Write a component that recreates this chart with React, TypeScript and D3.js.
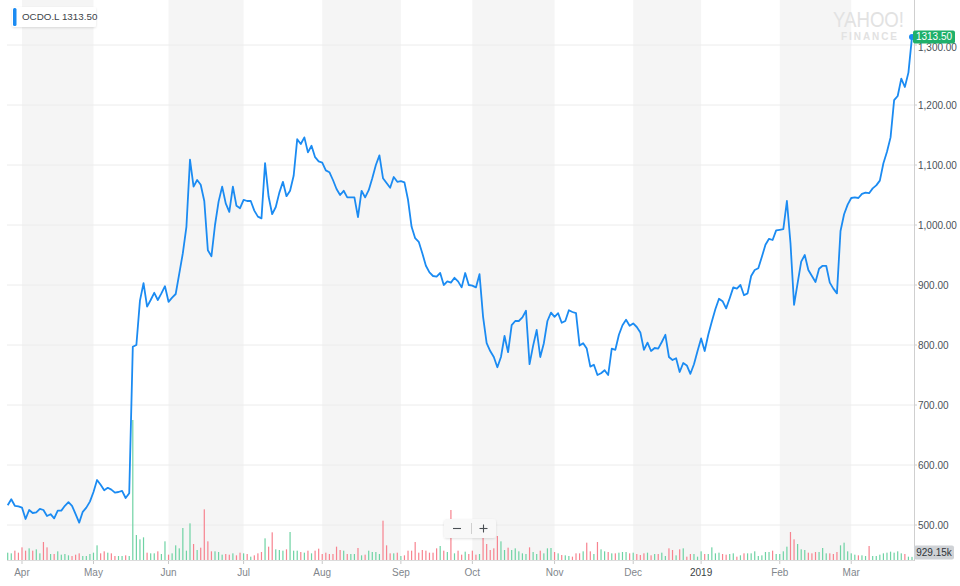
import * as d3 from "d3";
import { useEffect, useRef } from "react";

// LSE trading calendar for the year shown (weekends skipped in code)
const holidays = [
  "2018-03-30", "2018-04-02", "2018-05-07", "2018-05-28",
  "2018-08-27", "2018-12-25", "2018-12-26", "2019-01-01",
];

const monthLabels = ["Apr", "May", "Jun", "Jul", "Aug", "Sep", "Oct", "Nov", "Dec", "2019", "Feb", "Mar"];

// daily close, OCDO.L (pence), 26 Mar 2018 -> 26 Mar 2019
const closes = [
  533, 543, 532, 531, 529, 510, 525, 520, 521, 527,
  525, 515, 518, 511, 524, 524, 532, 538, 532, 518,
  504, 522, 529, 539, 555, 575, 567, 558, 562, 559,
  554, 555, 557, 545, 553, 797, 800, 874, 903, 864,
  875, 887, 875, 886, 898, 872, 879, 885, 919, 953,
  997, 1109, 1064, 1075, 1067, 1040, 958, 948, 1000, 1039,
  1064, 1036, 1022, 1064, 1032, 1028, 1042, 1040, 1040, 1024,
  1014, 1011, 1103, 1047, 1018, 1030, 1054, 1072, 1048, 1057,
  1082, 1143, 1135, 1146, 1121, 1132, 1113, 1106, 1104, 1091,
  1088, 1075, 1060, 1050, 1057, 1046, 1046, 1046, 1013, 1057,
  1046, 1058, 1078, 1100, 1116, 1078, 1070, 1062, 1080, 1072,
  1073, 1071, 1042, 997, 978, 972, 953, 932, 921, 915,
  914, 920, 900, 906, 904, 912, 906, 896, 920, 900,
  899, 896, 918, 847, 803, 790, 780, 763, 780, 815,
  788, 833, 840, 840, 846, 857, 768, 799, 825, 780,
  803, 840, 854, 847, 853, 837, 840, 858, 855, 853,
  799, 803, 794, 764, 767, 750, 753, 758, 750, 794,
  792, 817, 833, 842, 832, 836, 830, 821, 792, 804,
  790, 795, 794, 805, 817, 780, 775, 778, 755, 770,
  766, 752, 768, 790, 811, 790, 817, 839, 860, 877,
  873, 861, 878, 896, 894, 900, 883, 886, 915, 925,
  928, 947, 967, 977, 975, 991, 992, 993, 1040, 970,
  867, 903, 939, 950, 925, 915, 905, 927, 932, 932,
  904, 894, 886, 990, 1018, 1034, 1045, 1046, 1045, 1052,
  1054, 1053, 1061, 1066, 1074, 1103, 1122, 1146, 1208, 1215,
  1244, 1230, 1254, 1313.5,
];

// daily volume, thousands of shares
const volumes = [
  2200, 2000, 2800, 2200, 3800, 2800, 3500, 2800, 3200, 2000,
  5400, 3800, 1800, 1800, 2600, 1600, 1800, 1400, 1200, 1600,
  2000, 1200, 1200, 1800, 2200, 4400, 2000, 2600, 2200, 2000,
  1200, 1200, 1200, 1400, 1200, 42000, 7500, 6200, 6800, 2200,
  2000, 2000, 2600, 1800, 5600, 1600, 2000, 4400, 3500, 9600,
  2800, 11000, 4800, 3000, 3700, 15200, 5600, 2600, 2600, 2400,
  1600, 1800, 1600, 2000, 1400, 2200, 2000, 1800, 1000, 1400,
  2000, 2400, 6500, 4000, 8300, 3200, 3000, 2800, 3200, 8400,
  2800, 2800, 2400, 2200, 2800, 2000, 2800, 3400, 1800, 2200,
  1800, 1800, 4000, 3000, 2800, 1800, 1800, 1800, 3600, 1400,
  1600, 2800, 2400, 2400, 1800, 11800, 4400, 2000, 2000, 2200,
  1200, 1400, 2800, 2800, 5400, 2200, 3000, 2800, 2200, 2200,
  3500, 4200, 2800, 2400, 15000, 2000, 2800, 1600, 2500, 1800,
  2800, 1600, 1800, 7200, 4800, 3000, 3500, 7200, 5600, 3000,
  3700, 3000, 3500, 2600, 2000, 1800, 3800, 2400, 1800, 2800,
  2000, 3500, 3600, 2400, 2000, 1500, 1400, 1200, 1000, 2000,
  2000, 2600, 5200, 2600, 1800, 5400, 3200, 2600, 2400, 2000,
  2000, 2200, 2400, 2400, 2000, 2200, 1800, 1500, 2000, 2200,
  1400, 1800, 1800, 2200, 1200, 3500, 3000, 1400, 3200, 3500,
  1000, 1800, 1800, 1000, 2600, 1800, 1800, 3800, 2000, 2200,
  1800, 1600, 1800, 2000, 1000, 1400, 2000, 2000, 2000, 2600,
  1200, 1400, 2400, 2400, 2800, 1800, 1800, 2600, 4000, 8400,
  6200, 4800, 3200, 3000, 2200, 2000, 2400, 2400, 3600, 2000,
  2000, 1800, 2400, 4400, 5200, 2600, 2000, 1600, 1400, 1400,
  1200, 4200, 1200, 1200, 1600, 2000, 2200, 2500, 2200, 2600,
  2000, 1800, 1000, 929,
];

const priceTicks = [500, 600, 700, 800, 900, 1000, 1100, 1200, 1300];
const ticker = "OCDO.L";
const lastVolumeLabel = "929.15k";

const tradingDays = (): Date[] => {
  const out: Date[] = [];
  const d = new Date(Date.UTC(2018, 2, 26));
  const end = new Date(Date.UTC(2019, 2, 26));
  while (d <= end) {
    const dow = d.getUTCDay();
    const key = d.toISOString().slice(0, 10);
    if (dow !== 0 && dow !== 6 && !holidays.includes(key)) out.push(new Date(d));
    d.setUTCDate(d.getUTCDate() + 1);
  }
  return out;
};

const App = () => {
  const svgRef = useRef<SVGSVGElement | null>(null);

  useEffect(() => {
    if (!svgRef.current) return;

    const width = 960;
    const height = 586;
    const font = "'Liberation Sans', Arial, sans-serif";
    const blue = "#1b8bf2";

    const days = tradingDays();
    const monthStarts: number[] = [];
    days.forEach((d, i) => {
      if (i > 0 && d.getUTCMonth() !== days[i - 1].getUTCMonth()) monthStarts.push(i);
    });

    const x = d3.scaleLinear().domain([0, closes.length - 1]).range([7.7, 912]);
    const y = d3.scaleLinear().domain([500, 1300]).range([525, 45]);
    const v = d3.scaleLinear().domain([0, d3.max(volumes)!]).range([560, 420]);
    const left = 7;
    const right = 914;
    const bottom = 560;

    const svg = d3.select(svgRef.current)
      .attr("width", width)
      .attr("height", height)
      .style("background", "#fff");
    svg.selectAll("*").remove();

    const defs = svg.append("defs");
    const shadow = defs.append("filter").attr("id", "shadow")
      .attr("x", "-20%").attr("y", "-40%").attr("width", "140%").attr("height", "180%");
    shadow.append("feDropShadow")
      .attr("dx", 0).attr("dy", 1).attr("stdDeviation", 1.2)
      .attr("flood-color", "#000").attr("flood-opacity", 0.12);

    // alternating month bands
    monthStarts.forEach((m, k) => {
      if (k % 2 !== 0 || k + 1 >= monthStarts.length) return;
      svg.append("rect")
        .attr("x", x(m))
        .attr("y", 0)
        .attr("width", x(monthStarts[k + 1]) - x(m))
        .attr("height", bottom)
        .attr("fill", "#f5f5f5");
    });

    // grid
    svg.append("g")
      .selectAll("line")
      .data(priceTicks)
      .join("line")
      .attr("x1", left).attr("x2", right)
      .attr("y1", d => y(d)).attr("y2", d => y(d))
      .attr("stroke", "#ececec");

    // volume bars
    svg.append("g")
      .selectAll("rect")
      .data(volumes)
      .join("rect")
      .attr("x", (_, i) => x(i) - 0.6)
      .attr("y", d => v(d))
      .attr("width", 1.2)
      .attr("height", d => bottom - v(d))
      .attr("fill", (_, i) => (i === 0 || closes[i] >= closes[i - 1] ? "#6fd3a4" : "#f7838f"));

    // axes lines
    svg.append("line")
      .attr("x1", left).attr("x2", right)
      .attr("y1", bottom + 0.5).attr("y2", bottom + 0.5)
      .attr("stroke", "#dcdcdc");
    svg.append("line")
      .attr("x1", right + 0.5).attr("x2", right + 0.5)
      .attr("y1", 0).attr("y2", bottom + 1)
      .attr("stroke", "#cfcfcf");

    // price axis labels
    const yAxis = svg.append("g");
    priceTicks.forEach(t => {
      yAxis.append("line")
        .attr("x1", right).attr("x2", right + 3)
        .attr("y1", y(t)).attr("y2", y(t))
        .attr("stroke", "#cfcfcf");
      yAxis.append("text")
        .attr("x", 918)
        .attr("y", y(t) + (t === 1300 ? 2 : 0))
        .attr("dy", "0.35em")
        .attr("font-family", font)
        .attr("font-size", 10)
        .attr("fill", "#4a5158")
        .text(d3.format(",.2f")(t));
    });

    // month ticks
    const xAxis = svg.append("g");
    monthStarts.forEach((m, k) => {
      xAxis.append("line")
        .attr("x1", x(m)).attr("x2", x(m))
        .attr("y1", bottom + 1).attr("y2", bottom + 4)
        .attr("stroke", "#c8c8c8");
      xAxis.append("text")
        .attr("x", x(m))
        .attr("y", 576)
        .attr("text-anchor", "middle")
        .attr("font-family", font)
        .attr("font-size", 10)
        .attr("fill", monthLabels[k] === "2019" ? "#3a3f44" : "#7f868c")
        .text(monthLabels[k]);
    });

    // price line
    const line = d3.line<number>()
      .x((_, i) => x(i))
      .y(d => y(d));
    svg.append("path")
      .datum(closes)
      .attr("fill", "none")
      .attr("stroke", blue)
      .attr("stroke-width", 1.8)
      .attr("stroke-linejoin", "round")
      .attr("d", line);

    const last = closes.length - 1;
    svg.append("circle")
      .attr("cx", x(last)).attr("cy", y(closes[last]))
      .attr("r", 3).attr("fill", blue);

    // last price tag
    svg.append("rect")
      .attr("x", right - 1).attr("y", y(closes[last]) - 6.5)
      .attr("width", 42).attr("height", 13).attr("rx", 2)
      .attr("fill", "#1fb06a");
    svg.append("text")
      .attr("x", right + 20).attr("y", y(closes[last]))
      .attr("dy", "0.35em")
      .attr("text-anchor", "middle")
      .attr("font-family", font).attr("font-size", 10)
      .attr("fill", "#fff")
      .text(closes[last].toFixed(2));

    // last volume tag
    svg.append("rect")
      .attr("x", right).attr("y", 545.5)
      .attr("width", 40).attr("height", 14).attr("rx", 2)
      .attr("fill", "#cfd2d6");
    svg.append("text")
      .attr("x", right + 20).attr("y", 552.5)
      .attr("dy", "0.35em")
      .attr("text-anchor", "middle")
      .attr("font-family", font).attr("font-size", 10)
      .attr("fill", "#2f3439")
      .text(lastVolumeLabel);

    // legend
    svg.append("rect")
      .attr("x", 12).attr("y", 7).attr("width", 84).attr("height", 20).attr("rx", 2)
      .attr("fill", "#fff").attr("filter", "url(#shadow)");
    svg.append("rect")
      .attr("x", 13).attr("y", 8).attr("width", 3.5).attr("height", 18).attr("rx", 1.5)
      .attr("fill", blue);
    svg.append("text")
      .attr("x", 22).attr("y", 17)
      .attr("dy", "0.35em")
      .attr("font-family", font).attr("font-size", 9.8)
      .attr("fill", "#3c4349")
      .text(`${ticker} ${closes[last].toFixed(2)}`);

    // watermark
    svg.append("text")
      .attr("x", 833).attr("y", 27)
      .attr("font-family", font).attr("font-size", 22).attr("font-weight", 300)
      .attr("textLength", 71).attr("lengthAdjust", "spacingAndGlyphs")
      .attr("fill", "#e2e2e2")
      .text("YAHOO!");
    svg.append("text")
      .attr("x", 841).attr("y", 40)
      .attr("font-family", font).attr("font-size", 10).attr("font-weight", 700)
      .attr("textLength", 56).attr("lengthAdjust", "spacing")
      .attr("fill", "#e2e2e2")
      .text("FINANCE");

    // zoom buttons
    const zb = svg.append("g").attr("transform", "translate(444,519)");
    zb.append("rect")
      .attr("width", 52).attr("height", 19).attr("rx", 3)
      .attr("fill", "#f8f8f8").attr("filter", "url(#shadow)");
    zb.append("line").attr("x1", 9).attr("x2", 17).attr("y1", 9.5).attr("y2", 9.5)
      .attr("stroke", "#4a4f54").attr("stroke-width", 1.1);
    zb.append("line").attr("x1", 27.5).attr("x2", 27.5).attr("y1", 4).attr("y2", 15)
      .attr("stroke", "#d0d0d0");
    zb.append("line").attr("x1", 35.5).attr("x2", 43.5).attr("y1", 9.5).attr("y2", 9.5)
      .attr("stroke", "#4a4f54").attr("stroke-width", 1.1);
    zb.append("line").attr("x1", 39.5).attr("x2", 39.5).attr("y1", 5.5).attr("y2", 13.5)
      .attr("stroke", "#4a4f54").attr("stroke-width", 1.1);
  }, []);

  return <svg ref={svgRef} style={{ position: "absolute", left: 0, top: 0 }}></svg>;
};

export default App;
